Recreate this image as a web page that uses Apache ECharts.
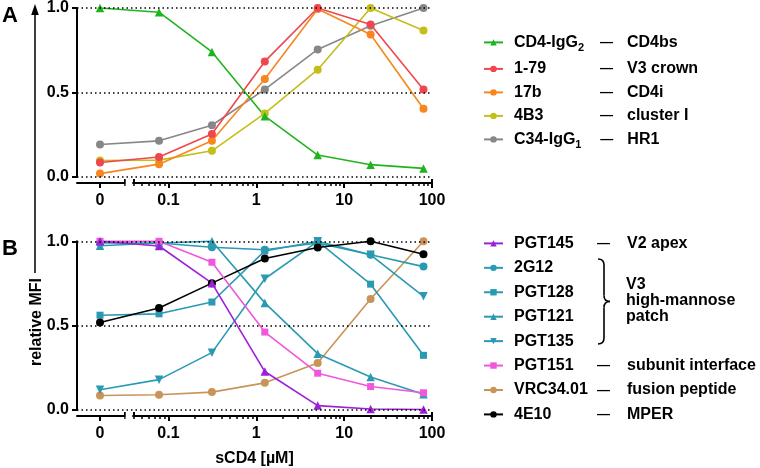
<!DOCTYPE html>
<html><head><meta charset="utf-8">
<script src="https://cdn.jsdelivr.net/npm/echarts@6/dist/echarts.min.js"></script>
<style>html,body{margin:0;padding:0;background:#fff}#c{width:760px;height:468px}</style>
</head><body><div id="c"></div>
<script>
// ---------- data ----------
const X_VALUES = [0, 0.078125, 0.3125, 1.25, 5, 20, 80];   // sCD4 [µM]

// Panel A
const A_NAMES  = ['CD4-IgG2', '1-79', '17b', '4B3', 'C34-IgG1'];
const A_DESC   = ['CD4bs', 'V3 crown', 'CD4i', 'cluster I', 'HR1'];
const CD4_IGG2 = [1.0, 0.975, 0.74, 0.36, 0.13, 0.073, 0.051];
const AB_1_79  = [0.086, 0.118, 0.255, 0.684, 1.0, 0.902, 0.518];
const AB_17B   = [0.02, 0.076, 0.214, 0.58, 0.994, 0.843, 0.404];
const AB_4B3   = [0.098, 0.1, 0.155, 0.376, 0.635, 1.0, 0.867];
const C34_IGG1 = [0.192, 0.214, 0.306, 0.518, 0.755, 0.895, 1.0];

// Panel B
const B_NAMES  = ['PGT145', '2G12', 'PGT128', 'PGT121', 'PGT135', 'PGT151', 'VRC34.01', '4E10'];
const B_DESC   = ['V2 apex', '', '', '', '', 'subunit interface', 'fusion peptide', 'MPER'];
const PGT145   = [1.0, 0.972, 0.752, 0.228, 0.026, 0.006, 0.003];
const AB_2G12  = [0.99, 0.99, 0.965, 0.95, 0.99, 0.92, 0.85];
const PGT128   = [0.562, 0.57, 0.64, 0.943, 1.0, 0.746, 0.324];
const PGT121   = [0.974, 0.99, 1.0, 0.635, 0.334, 0.196, 0.094];
const PGT135   = [0.12, 0.18, 0.34, 0.778, 1.0, 0.92, 0.674];
const PGT151   = [1.0, 1.0, 0.876, 0.462, 0.218, 0.139, 0.102];
const VRC34_01 = [0.086, 0.09, 0.106, 0.161, 0.279, 0.658, 1.0];
const AB_4E10  = [0.519, 0.605, 0.752, 0.898, 0.963, 1.0, 0.923];

// axis ticks
const MAJOR_TICKS = [0, 0.1, 1, 10, 100];
const TICK_LABELS = ['0', '0.1', '1', '10', '100'];
const MINOR_TICKS = [0.04, 0.05, 0.06, 0.07, 0.08, 0.09,
                     0.2, 0.3, 0.4, 0.5, 0.6, 0.7, 0.8, 0.9,
                     2, 3, 4, 5, 6, 7, 8, 9,
                     20, 30, 40, 50, 60, 70, 80, 90];

// ---------- scale (broken log axis: "0" segment + log segment) ----------
const ZERO_T = -1.779;            // where x = 0 sits on the log10 scale
const X_MIN = -2.041, X_MAX = 2;
const SEG1_END = -1.50;
const SEG2_START = Math.log10(0.04);
function toT(x) { return x === 0 ? ZERO_T : Math.log10(x); }

const FONT = '"Liberation Sans", Arial, Helvetica, sans-serif';
const C = {
  green: '#1fb41f', red: '#f0464f', orange: '#f7861e', yellow: '#c4be1a', gray: '#878787',
  purple: '#9e1fd8', teal: '#2a9ab2', pink: '#f057dc', tan: '#c99459', black: '#000000'
};

const majorT = MAJOR_TICKS.map(toT);
const minorT = MINOR_TICKS.map(toT);

function fmtX(v) {
  let best = 0, bd = 1e9;
  majorT.forEach((t, i) => { const d = Math.abs(t - v); if (d < bd) { bd = d; best = i; } });
  return TICK_LABELS[best];
}

function xAxes(gi, named) {
  const base = { type: 'value', gridIndex: gi, position: 'bottom', offset: 6, min: X_MIN, max: X_MAX,
                 splitLine: { show: false } };
  const main = Object.assign({}, base, {
    axisLine: { show: true, onZero: false, lineStyle: { color: '#000', width: 2 } },
    axisTick: { show: true, customValues: majorT, length: 5, lineStyle: { color: '#000', width: 2 } },
    axisLabel: { show: true, customValues: majorT, formatter: fmtX, margin: 10,
                 fontSize: 16, fontWeight: 'bold', color: '#000', fontFamily: FONT }
  });
  if (named) {
    Object.assign(main, { name: 'sCD4 [µM]', nameLocation: 'middle', nameGap: 35,
      nameTextStyle: { fontSize: 16, fontWeight: 'bold', color: '#000', fontFamily: FONT } });
  }
  const minor = Object.assign({}, base, {
    axisLine: { show: false, onZero: false },
    axisTick: { show: true, customValues: minorT.concat([SEG1_END, X_MAX]), length: 3,
                lineStyle: { color: '#000', width: 1.5 } },
    axisLabel: { show: false }
  });
  const inside = Object.assign({}, base, {
    axisLine: { show: false, onZero: false },
    axisTick: { show: true, inside: true, customValues: [SEG1_END, SEG2_START, X_MAX], length: 4,
                lineStyle: { color: '#000', width: 2 } },
    axisLabel: { show: false }
  });
  return [main, minor, inside];
}

function yAxis(gi) {
  return {
    type: 'value', gridIndex: gi, min: 0, max: 1, interval: 0.5, z: 4,
    axisLine: { show: true, onZero: false, lineStyle: { color: '#000', width: 2 } },
    axisTick: { show: true, length: 5, lineStyle: { color: '#000', width: 2 } },
    axisLabel: { formatter: v => v.toFixed(1), margin: 8, fontSize: 16, fontWeight: 'bold',
                 color: '#000', fontFamily: FONT },
    splitLine: { show: true, lineStyle: { color: '#000', width: 1.5, type: [1.5, 3] } }
  };
}

function mkSeries(name, vals, color, symbol, xi, yi, rotate) {
  return {
    type: 'line', name, xAxisIndex: xi, yAxisIndex: yi, clip: false,
    data: X_VALUES.map((x, i) => [toT(x), vals[i]]),
    symbol, symbolSize: symbol === 'rect' ? 7 : (symbol === 'circle' ? 8 : 8.5),
    symbolRotate: rotate || 0, showSymbol: true,
    lineStyle: { color, width: 1.6 }, itemStyle: { color },
    emphasis: { disabled: true }, animation: false
  };
}

const series = [
  mkSeries('C34-IgG1', C34_IGG1, C.gray, 'circle', 0, 0),
  mkSeries('4B3', AB_4B3, C.yellow, 'circle', 0, 0),
  mkSeries('17b', AB_17B, C.orange, 'circle', 0, 0),
  mkSeries('1-79', AB_1_79, C.red, 'circle', 0, 0),
  mkSeries('CD4-IgG2', CD4_IGG2, C.green, 'triangle', 0, 0),

  mkSeries('VRC34.01', VRC34_01, C.tan, 'circle', 3, 1),
  mkSeries('PGT135', PGT135, C.teal, 'triangle', 3, 1, 180),
  mkSeries('PGT121', PGT121, C.teal, 'triangle', 3, 1),
  mkSeries('2G12', AB_2G12, C.teal, 'circle', 3, 1),
  mkSeries('PGT128', PGT128, C.teal, 'rect', 3, 1),
  mkSeries('4E10', AB_4E10, C.black, 'circle', 3, 1),
  mkSeries('PGT151', PGT151, C.pink, 'rect', 3, 1),
  mkSeries('PGT145', PGT145, C.purple, 'triangle', 3, 1)
];

// ---------- legend text (rich) ----------
const mctx = document.createElement('canvas').getContext('2d');
mctx.font = 'bold 16px "Liberation Sans"';
const SUBS = { 'CD4-IgG2': ['CD4-IgG', '2'], 'C34-IgG1': ['C34-IgG', '1'] };

function legendFormatter(names, descs, nameW) {
  return function (name) {
    const i = names.indexOf(name);
    const d = descs[i];
    let s = '{sp| }';
    if (SUBS[name]) {
      const w = mctx.measureText(SUBS[name][0]).width;
      s += '{nn|' + SUBS[name][0] + '}{s' + Math.round(nameW - w) + '|' + SUBS[name][1] + '}';
    } else {
      s += '{n' + nameW + '|' + name + '}';
    }
    if (d) s += '{d|—}{r|' + d + '}';
    return s;
  };
}
function richFor(nameW, dashW) {
  const t = { fontSize: 16, fontWeight: 'bold', color: '#000', fontFamily: FONT, lineHeight: 22 };
  const r = {
    sp: Object.assign({}, t, { width: 6 }),
    nn: Object.assign({}, t),
    d: Object.assign({}, t, { fontSize: 13, width: dashW }),
    r: Object.assign({}, t)
  };
  r['n' + nameW] = Object.assign({}, t, { width: nameW });
  ['CD4-IgG', 'C34-IgG'].forEach(p => {
    const w = Math.round(nameW - mctx.measureText(p).width);
    r['s' + w] = Object.assign({}, t, { fontSize: 11, lineHeight: 12, verticalAlign: 'bottom', width: w });
  });
  return r;
}

const legendCommon = { orient: 'vertical', left: 483, itemWidth: 19, itemHeight: 8,
  selectedMode: false, padding: 0 };

const option = {
  animation: false,
  backgroundColor: '#fff',
  grid: [
    { left: 77, top: 7.5, width: 355, height: 169.5 },
    { left: 77, top: 241.3, width: 355, height: 169.7 }
  ],
  xAxis: xAxes(0, false).concat(xAxes(1, true)),
  yAxis: [yAxis(0), yAxis(1)],
  legend: [
    Object.assign({}, legendCommon, { top: 34.4, itemGap: 7.5, data: A_NAMES,
      formatter: legendFormatter(A_NAMES, A_DESC, 86),
      textStyle: { rich: richFor(86, 27) } }),
    Object.assign({}, legendCommon, { top: 235.4, itemGap: 8.43, data: B_NAMES,
      formatter: legendFormatter(B_NAMES, B_DESC, 83),
      textStyle: { rich: richFor(83, 30) } })
  ],
  series
};

const chart = echarts.init(document.getElementById('c'), null, { renderer: 'canvas' });
chart.setOption(option);

// ---------- decorations ----------
const p1 = chart.convertToPixel({ xAxisIndex: 0 }, SEG1_END);
const p2 = chart.convertToPixel({ xAxisIndex: 0 }, SEG2_START);
const txt = (text, x, y, font) => ({
  type: 'text', x, y,
  style: { text, fill: '#000', font: font || ('bold 16px ' + FONT), align: 'left', verticalAlign: 'middle' }
});
const braceStyle = { stroke: '#000', lineWidth: 1.6, fill: null };
const quad = (x1, y1, cx, cy, x2, y2) => ({ type: 'bezierCurve', shape: { x1, y1, cpx1: cx, cpy1: cy, x2, y2 }, style: braceStyle });
const seg = (x1, y1, x2, y2) => ({ type: 'line', shape: { x1, y1, x2, y2 }, style: braceStyle });

chart.setOption({
  graphic: [
    // axis break gaps
    { type: 'rect', z: 3, shape: { x: p1 + 1.2, y: 0, width: p2 - p1 - 2.4, height: 189 }, style: { fill: '#fff' } },
    { type: 'rect', z: 3, shape: { x: p1 + 1.2, y: 232, width: p2 - p1 - 2.4, height: 189 }, style: { fill: '#fff' } },
    // panel letters
    txt('A', 2, 15.5, 'bold 22px ' + FONT),
    txt('B', 2, 248.5, 'bold 22px ' + FONT),
    // y title with arrow
    { type: 'line', shape: { x1: 35, y1: 273, x2: 35, y2: 12 }, style: { stroke: '#000', lineWidth: 1.5 } },
    { type: 'polygon', shape: { points: [[35, 4], [31.2, 15], [38.8, 15]] }, style: { fill: '#000' } },
    { type: 'text', x: 37, y: 322, rotation: Math.PI / 2,
      style: { text: 'relative MFI', fill: '#000', font: 'bold 16px ' + FONT, align: 'center', verticalAlign: 'middle' } },
    // brace for V3 high-mannose patch
    quad(598, 259, 604, 259, 604, 265),
    seg(604, 265, 604, 295.5),
    quad(604, 295.5, 604, 301.5, 610, 301.5),
    quad(610, 301.5, 604, 301.5, 604, 307.5),
    seg(604, 307.5, 604, 338),
    quad(604, 338, 604, 344, 598, 344),
    { type: 'text', x: 626, y: 301,
      style: { text: 'V3\nhigh-mannose\npatch', fill: '#000', font: 'bold 16px ' + FONT, lineHeight: 16,
               align: 'left', verticalAlign: 'middle' } }
  ]
});
</script></body></html>
